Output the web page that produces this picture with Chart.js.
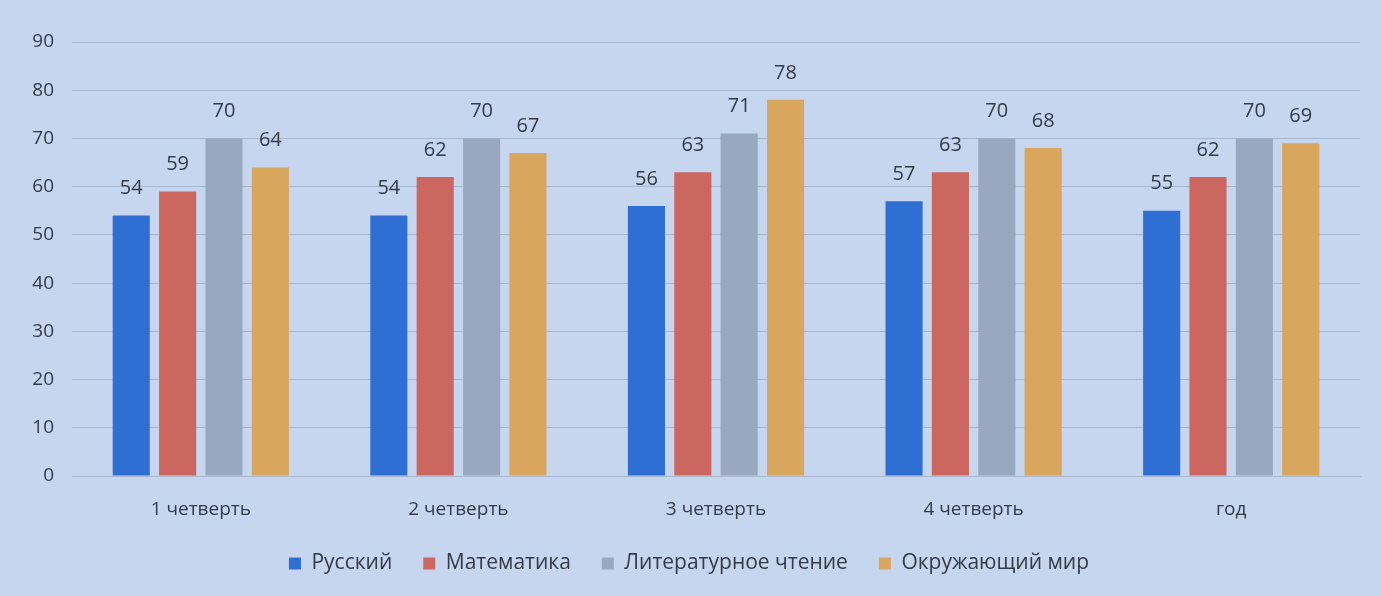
<!DOCTYPE html>
<html>
<head>
<meta charset="utf-8">
<script src="https://cdn.jsdelivr.net/npm/chart.js@4/dist/chart.umd.min.js"></script>
<style>
  html,body{margin:0;padding:0;background:#c6d6ef}
  #wrap{width:1381px;height:596px}
</style>
</head>
<body>
<div id="wrap"><canvas id="c" width="1381" height="596"></canvas></div>
<script>
const categories = ['1 четверть','2 четверть','3 четверть','4 четверть','год']
const russian = [54,54,56,57,55]
const math = [59,62,63,63,62]
const reading = [70,70,71,70,70]
const world = [64,67,78,68,69]
const seriesNames = ['Русский','Математика','Литературное чтение','Окружающий мир']
const colors = ['#2f6fd3','#cb675f','#9aa8bf','#d8a65c']

const font = "'Open Sans', sans-serif"
const textColor = '#343a46'

// draws value above every bar
const valueLabels = {
  id:'valueLabels',
  afterDatasetsDraw(chart){
    const ctx = chart.ctx
    ctx.save()
    ctx.font = '20px ' + font
    ctx.fillStyle = textColor
    ctx.textAlign = 'center'
    ctx.textBaseline = 'middle'
    chart.data.datasets.forEach((ds,i)=>{
      chart.getDatasetMeta(i).data.forEach((bar,j)=>{
        ctx.fillText(ds.data[j], bar.x, bar.y - 27)
      })
    })
    ctx.restore()
  }
}

const data = [russian, math, reading, world]
new Chart(document.getElementById('c'), {
  type:'bar',
  data:{
    labels: categories,
    datasets: data.map((d,i)=>({
      label: seriesNames[i],
      data: d,
      backgroundColor: colors[i],
      categoryPercentage: 0.72,
      barPercentage: 0.8
    }))
  },
  options:{
    responsive:false,
    animation:false,
    layout:{padding:{left:18,right:21,top:42,bottom:12}},
    plugins:{
      legend:{
        position:'bottom',
        labels:{font:{family:font,size:21},color:textColor,boxWidth:12,boxHeight:12,padding:31}
      },
      tooltip:{enabled:false}
    },
    scales:{
      x:{
        grid:{display:false},
        border:{color:'#aab8cf'},
        ticks:{font:{family:font,size:19},color:textColor,padding:14},
        afterFit(s){s.height = 46}
      },
      y:{
        min:0,max:90,
        ticks:{stepSize:10,font:{family:font,size:19},color:textColor,padding:18},
        grid:{color:'#a9b7cd',drawTicks:false},
        border:{display:false},
        afterFit(s){s.width = 54}
      }
    }
  },
  plugins:[valueLabels]
})
</script>
</body>
</html>
